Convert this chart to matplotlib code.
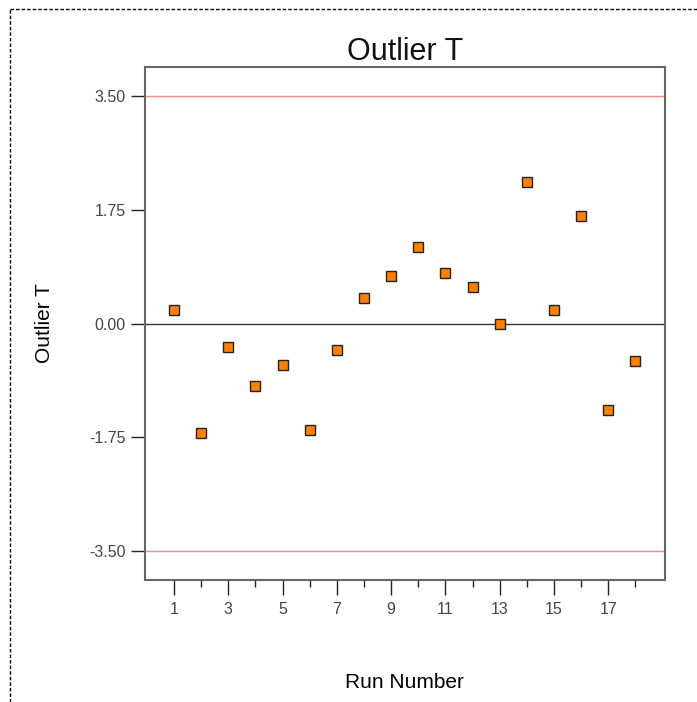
import matplotlib
matplotlib.use("Agg")
import matplotlib.pyplot as plt
from matplotlib.lines import Line2D

run_number = list(range(1, 19))
outlier_t = [0.215, -1.68, -0.36, -0.965, -0.64, -1.63, -0.40, 0.39, 0.73,
             1.17, 0.78, 0.56, 0.0, 2.18, 0.20, 1.65, -1.33, -0.58]
limit = 3.50
y_ticks = [-3.50, -1.75, 0.00, 1.75, 3.50]
x_major = [1, 3, 5, 7, 9, 11, 13, 15, 17]
x_minor = [2, 4, 6, 8, 10, 12, 14, 16, 18]

plt.rcParams['font.family'] = ['Liberation Sans', 'DejaVu Sans']

fig = plt.figure(figsize=(6.97, 7.02), dpi=100)
ax = fig.add_axes([145/697, 1-580/702, (664.7-145)/697, (580-67)/702])

ax.axhline(limit, color='#f08a8a', lw=1, zorder=1)
ax.axhline(-limit, color='#f08a8a', lw=1, zorder=1)
ax.axhline(0, color='#333333', lw=1, zorder=1)

ax.plot(run_number, outlier_t, linestyle='none', marker='s', markersize=7.6,
        markerfacecolor='#ff7f00', markeredgecolor='#222222', markeredgewidth=1.0, zorder=3)

ax.set_xlim(-0.07, 19.08)
ax.set_ylim(-3.94, 3.94)

ax.set_yticks(y_ticks)
ax.set_yticklabels([f"{v:.2f}" for v in y_ticks])
ax.set_xticks(x_major)
ax.set_xticklabels([str(v) for v in x_major])
ax.set_xticks(x_minor, minor=True)

ax.tick_params(axis='y', which='major', length=10, width=1, color='#222222',
               labelsize=11.5, labelcolor='#444444', pad=4)
ax.tick_params(axis='x', which='major', length=10.5, width=1, color='#222222',
               labelsize=11.5, labelcolor='#444444', pad=5)
ax.tick_params(axis='x', which='minor', length=5, width=1, color='#222222')

for s in ax.spines.values():
    s.set_color('#666666')
    s.set_linewidth(1.5)

ax.set_title('Outlier T', fontsize=22, color='#111111', pad=4)
ax.set_xlabel('Run Number', fontsize=15, color='#000000')
ax.set_ylabel('Outlier T', fontsize=15, color='#000000')
ax.xaxis.set_label_coords(0.5, (580-683)/513)
ax.xaxis.label.set_va('center')
ax.yaxis.set_label_coords((45-145)/519.7, 0.5)
ax.yaxis.label.set_va('center')

# dashed frame
fig.add_artist(Line2D([10/697, 1.0], [1-9/702, 1-9/702], transform=fig.transFigure,
                      color='black', lw=1, linestyle=(0, (2.5, 1.5))))
fig.add_artist(Line2D([10/697, 10/697], [0.0, 1-9/702], transform=fig.transFigure,
                      color='black', lw=1, linestyle=(0, (2.5, 1.5))))

fig.savefig('out.png', dpi=100)
